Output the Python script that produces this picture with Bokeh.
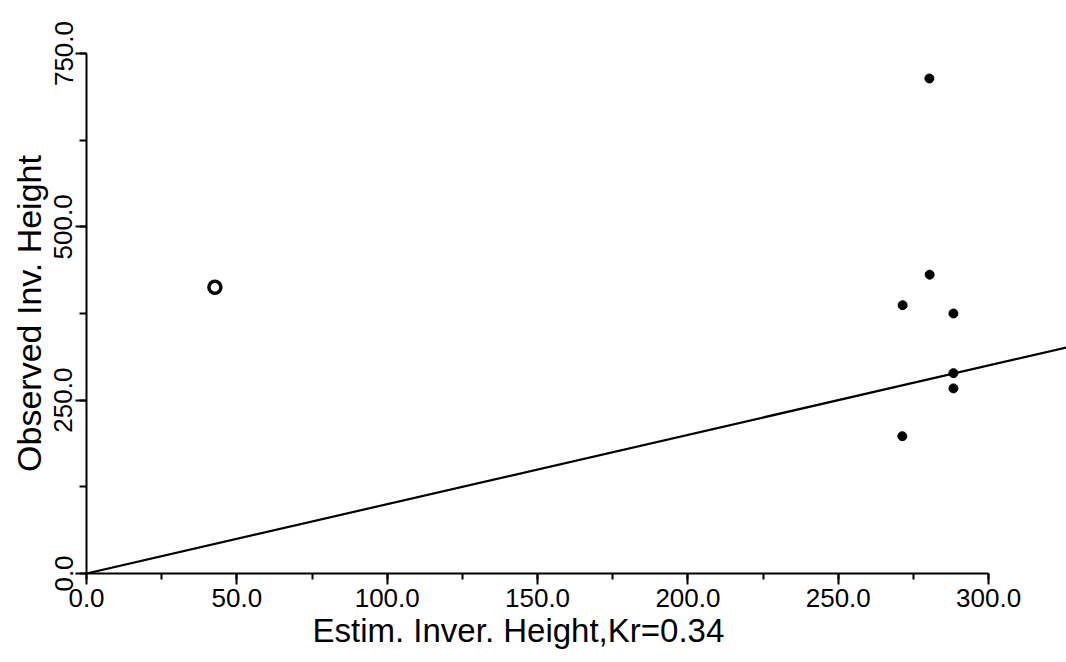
from bokeh.plotting import figure
from bokeh.models import Range1d, SingleIntervalTicker, PrintfTickFormatter, Title
from bokeh.embed import file_html
from bokeh.resources import INLINE

# Data
est_height = [280.3, 280.4, 271.4, 288.3, 288.3, 288.3, 271.3]
obs_height = [714, 431, 387, 375, 289, 267, 198]
open_est = [42.7]
open_obs = [413]
ref_x = [0, 330]          # 1:1 reference line
ref_y = [0, 330]

x_ticks_step = 50
y_ticks_step = 250
x_title = "Estim. Inver. Height,Kr=0.34"
y_title = "Observed Inv. Height"

FONT = "Liberation Sans"

p = figure(width=1066, height=662, output_backend="svg", toolbar_location=None,
           x_range=Range1d(0, 325.9), y_range=Range1d(0, 750),
           min_border_left=86, min_border_right=0, min_border_top=53, min_border_bottom=89)
p.outline_line_color = None
p.xgrid.visible = False
p.ygrid.visible = False
p.background_fill_color = "white"
p.border_fill_color = "white"

xa = p.xaxis[0]
xa.ticker = SingleIntervalTicker(interval=x_ticks_step, num_minor_ticks=2)
xa.formatter = PrintfTickFormatter(format="%.1f")
xa.bounds = (0, 300)
xa.axis_line_width = 2
xa.axis_line_color = "black"
xa.major_tick_line_width = 2
xa.minor_tick_line_width = 2
xa.major_tick_out = 11
xa.major_tick_in = 0
xa.minor_tick_out = 6
xa.minor_tick_in = 0
xa.major_label_standoff = 4
xa.major_label_text_font = FONT
xa.major_label_text_font_size = "26px"
xa.major_label_text_color = "black"

ya = p.yaxis[0]
ya.ticker = SingleIntervalTicker(interval=y_ticks_step, num_minor_ticks=2)
ya.formatter = PrintfTickFormatter(format="%.1f")
ya.bounds = (0, 750)
ya.axis_line_width = 2
ya.axis_line_color = "black"
ya.major_tick_line_width = 2
ya.minor_tick_line_width = 2
ya.major_tick_out = 11
ya.major_tick_in = 0
ya.minor_tick_out = 7
ya.minor_tick_in = 0
ya.major_label_standoff = 3
ya.major_label_orientation = "vertical"
ya.major_label_text_font = FONT
ya.major_label_text_font_size = "26px"
ya.major_label_text_color = "black"
ya.axis_label = y_title
ya.axis_label_standoff = 4
ya.axis_label_text_font = FONT
ya.axis_label_text_font_size = "34px"
ya.axis_label_text_font_style = "normal"
ya.axis_label_text_color = "black"

p.line(ref_x, ref_y, line_color="black", line_width=2.2)
p.scatter(est_height, obs_height, marker="circle", size=9, fill_color="black", line_color="black")
p.scatter(open_est, open_obs, marker="circle", size=12, fill_color="white", line_color="black", line_width=3.5)

xt = Title(text=x_title, align="left", offset=226, standoff=0,
           text_font=FONT, text_font_size="33px", text_font_style="normal", text_color="black")
p.add_layout(xt, "below")

open("out.html", "w").write(file_html(p, INLINE))
